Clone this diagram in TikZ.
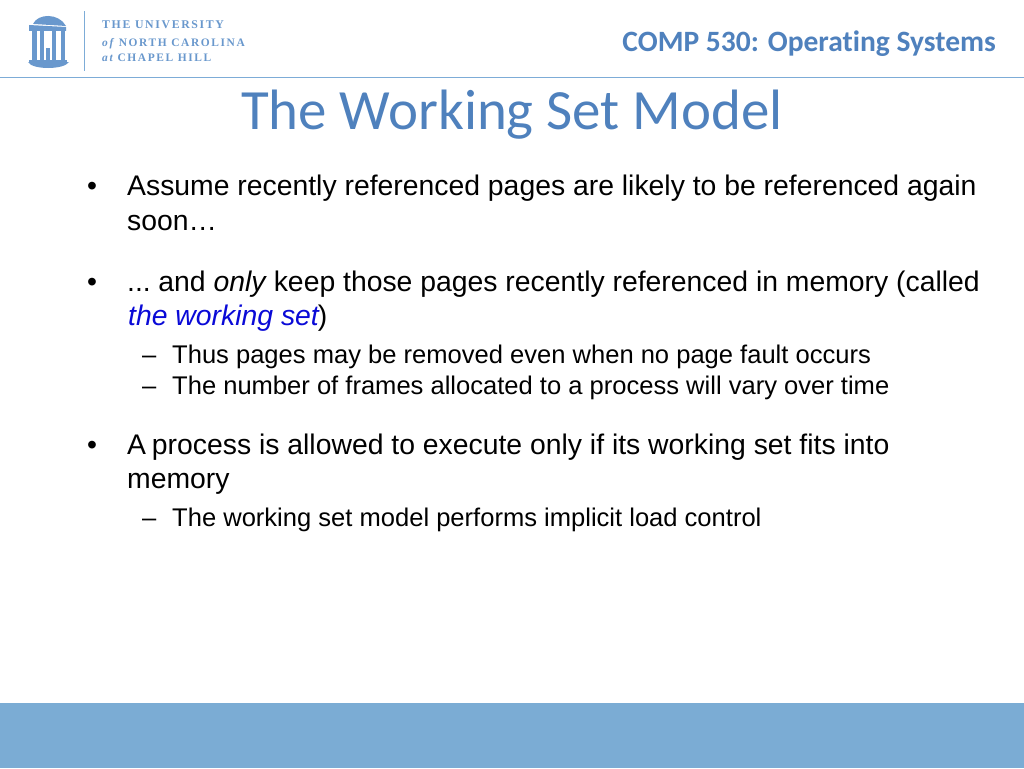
\documentclass[tikz,border=0pt]{standalone}
\usepackage{fontspec}
\setmainfont{Liberation Sans}
\newfontfamily\titlefont[Ligatures=NoCommon]{Carlito}
\newfontfamily\logofont[LetterSpace=14]{Liberation Serif}
\definecolor{slideblue}{RGB}{79,129,189}
\definecolor{ruleblue}{RGB}{125,172,215}
\definecolor{barblue}{RGB}{123,172,212}
\definecolor{logoblue}{RGB}{105,152,205}
\definecolor{termblue}{RGB}{10,10,215}
\tikzset{
    body/.style={anchor=base west, inner sep=0pt, font=\fontsize{28.35}{28.35}\selectfont},
    sub/.style={anchor=base west, inner sep=0pt, font=\fontsize{25.55}{25.55}\selectfont},
    logotext/.style={anchor=base west, inner sep=0pt, text=logoblue, font=\logofont\bfseries\fontsize{11.45}{11.45}\selectfont}
}
\begin{document}
\begin{tikzpicture}[x=1pt, y=-1pt]
    \useasboundingbox (0,0) rectangle (1024,768);
    \fill[white] (0,0) rectangle (1024,768);

    % footer and header rule
    \fill[barblue] (0,703) rectangle (1024,768);
    \fill[ruleblue] (0,76.8) rectangle (1024,78.4);

    % logo
    \fill[logoblue] (33,24) .. controls (38,13) and (59,13) .. (66,26) -- (34,24) -- cycle;
    \fill[logoblue] (29,25) -- (66,27) -- (66,31) -- (29,31) -- cycle;
    \fill[logoblue] (32,31) rectangle (37,60);
    \fill[logoblue] (40,31) rectangle (43.5,60);
    \fill[logoblue] (52,31) rectangle (56,60);
    \fill[logoblue] (61,31) rectangle (65,60);
    \fill[logoblue] (46,48) rectangle (50,60);
    \fill[logoblue] (29,60) rectangle (67,62);
    \fill[logoblue] (28,62) .. controls (32,70) and (64,70) .. (69,62) -- cycle;
    \fill[ruleblue] (84,11) rectangle (85,71);
    \node[logotext, font=\logofont\bfseries\fontsize{11.8}{11.8}\selectfont] (logoa) at (102,29) {THE UNIVERSITY};
    \node[logotext] (logob) at (102,46) {\textit{of}\hspace{-1.5pt} NORTH CAROLINA};
    \node[logotext] (logoc) at (102,62) {\textit{at}\hspace{-1.5pt} CHAPEL HILL};

    % titles
    \node[anchor=base east, inner sep=0pt, text=slideblue, font=\titlefont\bfseries\fontsize{29.5}{29.5}\selectfont] (course) at (996,52) {COMP 530: Operating Systems};
    \node[anchor=base west, inner sep=0pt, text=slideblue, font=\titlefont\fontsize{56.9}{56.9}\selectfont] (title) at (241,129) {The Working Set Model};

    % bullets
    \node[body] (b1) at (87,195) {•};
    \node[body] (t1) at (127,195) {Assume recently referenced pages are likely to be referenced again};
    \node[body] (t1b) at (127,230) {soon…};

    \node[body] (b2) at (87,291) {•};
    \node[body] (t2) at (127,291) {...\hspace{-3pt} and \textit{only}\hspace{-1pt} keep those pages recently referenced in memory (called};
    \node[body] (t2b) at (128,325) {\textcolor{termblue}{\textit{the working set}}\hspace{-2pt})};
    \node[sub] (d1) at (142,363) {–};
    \node[sub] (s1) at (172,363) {Thus pages may be removed even when no page fault occurs};
    \node[sub] (d2) at (142,394) {–};
    \node[sub] (s2) at (172,394) {The number of frames allocated to a process will vary over time};

    \node[body] (b3) at (87,454) {•};
    \node[body] (t3) at (127,454) {A\hspace{-2pt} process is allowed to execute only if its working set fits into};
    \node[body] (t3b) at (127,488) {memory};
    \node[sub] (d3) at (142,526) {–};
    \node[sub] (s3) at (172,526) {The working set model performs implicit load control};
\end{tikzpicture}
\end{document}
